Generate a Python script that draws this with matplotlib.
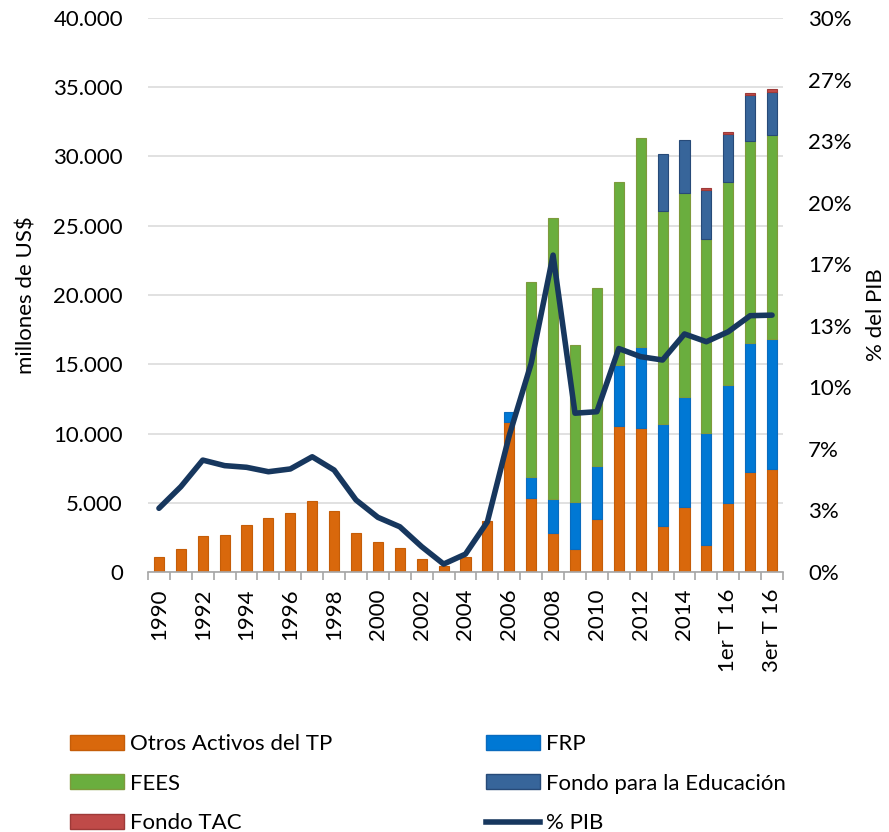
import numpy as np
import matplotlib; matplotlib.use("Agg")
import matplotlib.pyplot as plt
from matplotlib.ticker import FuncFormatter, FixedLocator
from matplotlib.patches import Patch
from matplotlib.lines import Line2D

plt.rcParams["font.family"] = ["Lato", "DejaVu Sans"]

periods = [str(y) for y in range(1990, 2016)] + ["1er T 16", "2do T 16", "3er T 16"]
otros = [1050, 1640, 2620, 2700, 3370, 3900, 4240, 5120, 4400, 2840, 2190, 1730, 960, 450,
         1110, 3680, 10850, 5370, 2790, 1640, 3850, 10540, 10370, 3320, 4720, 1950,
         4960, 7240, 7420]
frp = [0]*16 + [680, 1470, 2480, 3390, 3830, 4400, 5900, 7340, 7940, 8110, 8540, 9270, 9410]
fees = [0]*17 + [14130, 20310, 11360, 12800, 13230, 15090, 15400, 14730, 13960, 14680, 14610, 14730]
educ = [0]*23 + [4100, 3800, 3560, 3450, 3300, 3130]
tac = [0]*25 + [120, 170, 150, 170]
pib = [3.45, 4.62, 6.06, 5.76, 5.67, 5.43, 5.58, 6.24, 5.52, 3.90, 2.96, 2.45, 1.37, 0.43,
       0.97, 2.72, 7.4, 11.3, 17.16, 8.6, 8.68, 12.1, 11.66, 11.48, 12.89, 12.47,
       13.01, 13.88, 13.91]

series = [("Otros Activos del TP", otros, "#D9680C", "#C55D08"),
          ("FRP", frp, "#0078D4", "#0A6BBE"),
          ("FEES", fees, "#6AAE3E", "#7E9A3C"),
          ("Fondo para la Educación", educ, "#37659A", "#274A78"),
          ("Fondo TAC", tac, "#BF4A48", "#9E3A38")]
FS = 16

fig = plt.figure(figsize=(8.89, 8.32), dpi=100)
ax = fig.add_axes([148/889, 1-572/832, 635/889, 554/832])
x = np.arange(len(periods))
bottom = np.zeros(len(periods))
for name, vals, col, ec in series:
    v = np.array(vals, dtype=float)
    m = v > 0  # skip empty segments so no stray edges show
    ax.bar(x[m], v[m], 0.46, bottom=bottom[m], color=col, edgecolor=ec, lw=0.8, zorder=2)
    bottom += v

ax.set_xlim(-0.5, len(periods)-0.5)
ax.set_ylim(0, 40000)
ax.set_yticks(np.arange(0, 40001, 5000))
ax.yaxis.set_major_formatter(FuncFormatter(lambda v, p: f"{int(v):,}".replace(",", ".")))
ax.grid(axis="y", color="#D9D9D9", lw=1.1, zorder=0)
ax.set_axisbelow(True)
for s in ["top", "right", "left"]:
    ax.spines[s].set_visible(False)
ax.spines["bottom"].set_color("#A6A6A6")
ax.spines["bottom"].set_linewidth(1.2)
ax.tick_params(axis="y", length=0, pad=18, labelsize=FS)
ax.set_xticks(x[::2])
ax.set_xticklabels(periods[::2], rotation=90, fontsize=FS)
ax.xaxis.set_minor_locator(FixedLocator(np.arange(-0.5, len(periods), 1)))
ax.tick_params(axis="x", which="major", length=0, pad=12)
ax.tick_params(axis="x", which="minor", length=6, color="#A6A6A6", width=1.2)
ax.set_ylabel("millones de US$", fontsize=FS)
ax.yaxis.set_label_coords(-0.175, 0.5)

ax2 = ax.twinx()
ax2.plot(x, np.array(pib)/100, color="#17375E", lw=4.0, solid_joinstyle="round",
         solid_capstyle="round", zorder=3)
ax2.set_ylim(0, 0.30)
ax2.set_yticks(np.linspace(0, 0.30, 10))
ax2.yaxis.set_major_formatter(FuncFormatter(lambda v, p: f"{v*100:.0f}%"))
for s in ["top", "right", "left", "bottom"]:
    ax2.spines[s].set_visible(False)
ax2.tick_params(axis="y", length=0, pad=18, labelsize=FS)
ax2.set_ylabel("% del PIB", fontsize=FS)
ax2.yaxis.set_label_coords(1.13, 0.464)

handles = [Patch(facecolor=series[0][2], edgecolor=series[0][3]),
           Patch(facecolor=series[2][2], edgecolor=series[2][3]),
           Patch(facecolor=series[4][2], edgecolor=series[4][3]),
           Patch(facecolor=series[1][2], edgecolor=series[1][3]),
           Patch(facecolor=series[3][2], edgecolor=series[3][3]),
           Line2D([0], [0], color="#17375E", lw=4.0)]
labels = ["Otros Activos del TP", "FEES", "Fondo TAC", "FRP", "Fondo para la Educación", "% PIB"]
fig.legend(handles, labels, ncol=2, loc="upper left", bbox_to_anchor=(50/889, 1-714/832),
           frameon=False, fontsize=FS, handlelength=2.45, handleheight=0.65,
           handletextpad=0.25, labelspacing=0.88, columnspacing=6.9)

fig.savefig("out.png", dpi=100)
